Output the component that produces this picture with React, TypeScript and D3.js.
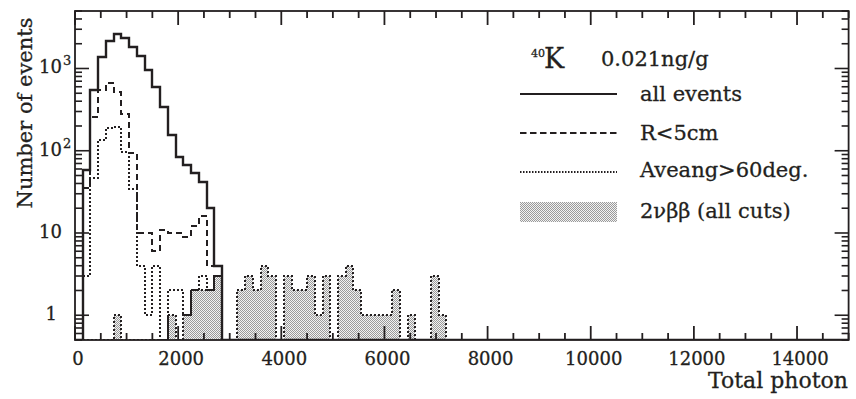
import React from 'react';
import * as d3 from 'd3';

const W = 856;
const H = 399;
const binWidth = 150;
const xMax = 15000;
const yMin = 0.5;
const yMax = 5000;

// bin contents, bin 0 = 0-150 photons; bins after the listed ones are empty
const allEvents = [0, 58, 548, 1391, 2177, 2606, 2328, 1841, 1419, 959, 590, 337, 155, 85, 67, 53, 42, 20, 4];
const rLess5cm = [0, 35, 259, 548, 661, 522, 282, 93, 10, 10, 6, 11, 10, 10, 9, 12, 16, 4, 4];
const aveang60 = [0, 3, 46, 135, 190, 196, 97, 34, 4, 1, 4, 0, 2, 2, 1, 2, 3, 2, 3];
const twoNuBB = [0, 0, 0, 0, 0, 1, 0, 0, 0, 0, 0, 0, 1, 0, 1, 2, 2, 2, 3, 0, 0, 2, 3, 2, 4, 3, 0, 3, 2, 2, 3, 1, 3, 0, 3, 4, 2, 1, 1, 1, 1, 2, 0, 1, 0, 0, 3, 1];

const xTickValues = [0, 2000, 4000, 6000, 8000, 10000, 12000, 14000];
const xTickLabels = ['0', '2000', '4000', '6000', '8000', '10000', '12000', '14000'];
const yTickValues = [1, 10, 100, 1000];
const yTickBase = ['1', '10', '10', '10'];
const yTickExp = ['', '', '2', '3'];

const legendLabels = ['all events', 'R<5cm', 'Aveang>60deg.', '2\u03bd\u03b2\u03b2 (all cuts)'];
const titleIsotope = 'K';
const titleMass = '40';
const titleConc = '0.021ng/g';
const xTitle = 'Total photon';
const yTitle = 'Number of events';

const INK = '#231f20';
const FONT = "'DejaVu Serif', 'Liberation Serif', serif";

export default function App() {
  const L = 75, R = 848.6, T = 11, B = 340;
  const x = d3.scaleLinear().domain([0, xMax]).range([L, R]);
  const y = d3.scaleLog().domain([yMin, yMax]).range([B, T]);

  const pts = (vals: number[]): [number, number][] => {
    const sx = (v: number) => Math.round(x(v));
    const sy = (v: number) => (v > 0 ? Math.round(y(v)) : B);
    const out: [number, number][] = [[sx(0), B]];
    vals.forEach((v, i) => {
      out.push([sx(i * binWidth), sy(v)]);
      out.push([sx((i + 1) * binWidth), sy(v)]);
    });
    out.push([sx(vals.length * binWidth), B]);
    out.push([sx(xMax), B]);
    return out;
  };
  const line = d3.line();

  const xMinor = d3.range(0, xMax + 1, 500);
  const yMinor: number[] = [];
  [0.1, 1, 10, 100, 1000].forEach((d) => {
    for (let k = 2; k <= 9; k++) {
      const v = k * d;
      if (v >= yMin && v <= yMax) yMinor.push(v);
    }
  });

  const legX0 = 520, legX1 = 617, legText = 640;
  const rowY = [94, 133, 172];
  const textY = [101, 140, 177, 218];
  const ts = { fontFamily: FONT };
  const tStroke = { stroke: INK, strokeWidth: 0.3 };

  return (
    <svg width={W} height={H} style={{ position: 'absolute', left: 0, top: 0, background: '#fff' }}>
      <defs>
        <pattern id="stipple" width="2" height="2" patternUnits="userSpaceOnUse">
          <rect width="2" height="2" fill="#f2f2f2" />
          <rect x="0" y="0" width="1" height="1" fill="#9a9a9a" />
          <rect x="1" y="1" width="1" height="1" fill="#9a9a9a" />
        </pattern>
        <clipPath id="frame">
          <rect x={L} y={T} width={R - L} height={B - T} />
        </clipPath>
      </defs>
      <rect width={W} height={H} fill="#fff" />

      <g clipPath="url(#frame)">
        <path d={line(pts(twoNuBB)) + 'Z'} fill="url(#stipple)" stroke="none" />
        <path d={line(pts(twoNuBB)) || ''} fill="none" stroke={INK} strokeWidth={2} strokeDasharray="2,2" />
        <path d={line(pts(aveang60)) || ''} fill="none" stroke={INK} strokeWidth={2} strokeDasharray="2,2" />
        <path d={line(pts(rLess5cm)) || ''} fill="none" stroke={INK} strokeWidth={2} strokeDasharray="6,4" />
        <path d={line(pts(allEvents)) || ''} fill="none" stroke={INK} strokeWidth={2.4} />
      </g>

      <rect x={L} y={T} width={R - L} height={B - T} fill="none" stroke={INK} strokeWidth={1.8} />

      {xMinor.map((v) => {
        const major = v % 2000 === 0;
        const len = major ? 14 : 7;
        return (
          <g key={'xt' + v} stroke={INK} strokeWidth={1.8}>
            <line x1={x(v)} x2={x(v)} y1={B} y2={B - len} />
            <line x1={x(v)} x2={x(v)} y1={T} y2={T + len} />
          </g>
        );
      })}
      {yMinor.concat(yTickValues).map((v) => {
        const major = yTickValues.includes(v);
        const len = major ? 14 : 7;
        return (
          <g key={'yt' + v} stroke={INK} strokeWidth={1.6}>
            <line x1={L} x2={L + len} y1={y(v)} y2={y(v)} />
            <line x1={R} x2={R - len} y1={y(v)} y2={y(v)} />
          </g>
        );
      })}

      {xTickValues.map((v, i) => (
        <text key={'xl' + v} x={x(v) + 3} y={365} textAnchor="middle" fontSize={18} fill={INK} style={ts} {...tStroke}>
          {xTickLabels[i]}
        </text>
      ))}
      {yTickValues.map((v, i) => (
        <g key={'yl' + v}>
          <text x={i === 0 ? 57 : 62} y={y(v) + 5} textAnchor="end" fontSize={18} fill={INK} style={ts} {...tStroke}>
            {yTickBase[i]}
          </text>
          {yTickExp[i] && (
            <text x={63} y={y(v) - 3} fontSize={13} fill={INK} style={ts} {...tStroke}>
              {yTickExp[i]}
            </text>
          )}
        </g>
      ))}

      <text x={848} y={388} textAnchor="end" fontSize={22} fill={INK} style={ts} {...tStroke}>{xTitle}</text>
      <text transform={`translate(32,${113}) rotate(-90)`} textAnchor="middle" fontSize={21} fill={INK} style={ts} {...tStroke}>{yTitle}</text>

      <text x={531} y={57} fontSize={11} fill={INK} style={ts} {...tStroke}>{titleMass}</text>
      <text x={544} y={68} fontSize={27} fill={INK} style={ts} {...tStroke}>{titleIsotope}</text>
      <text x={601} y={66} fontSize={21} fill={INK} style={ts} {...tStroke}>{titleConc}</text>

      <line x1={legX0} x2={legX1} y1={rowY[0]} y2={rowY[0]} stroke={INK} strokeWidth={2.2} />
      <line x1={legX0} x2={legX1} y1={rowY[1]} y2={rowY[1]} stroke={INK} strokeWidth={2} strokeDasharray="6.5,3.5" />
      <line x1={legX0} x2={legX1} y1={rowY[2]} y2={rowY[2]} stroke={INK} strokeWidth={2} strokeDasharray="1.5,1.5" />
      <rect x={legX0} y={202} width={legX1 - legX0} height={20} fill="url(#stipple)" />
      {legendLabels.map((t, i) => (
        <text key={t} x={legText} y={textY[i]} fontSize={21} fill={INK} style={ts} {...tStroke}>{t}</text>
      ))}
    </svg>
  );
}
